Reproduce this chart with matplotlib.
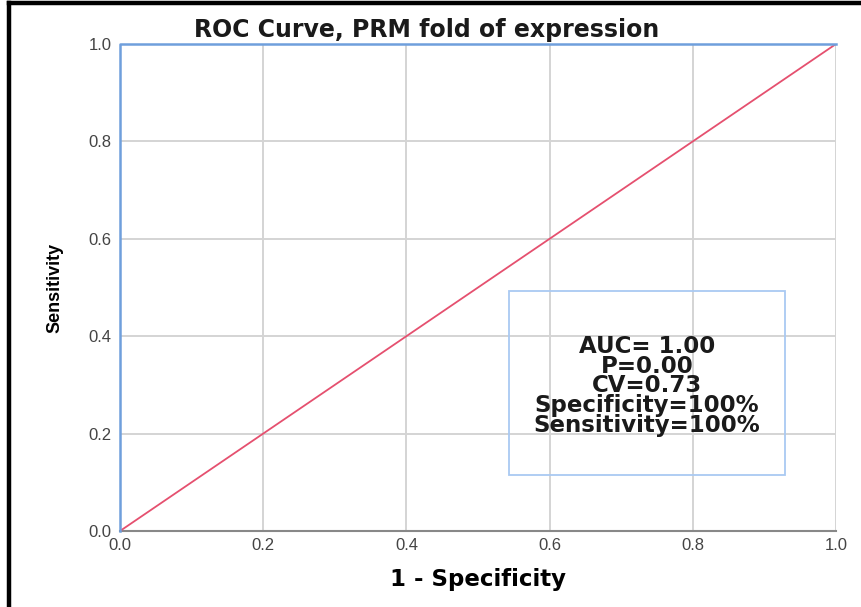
import matplotlib.pyplot as plt
from matplotlib.lines import Line2D
from matplotlib.patches import Rectangle

# ROC curve points
fpr = [0.0, 0.0, 1.0]
tpr = [0.0, 1.0, 1.0]
ref_x = [0.0, 1.0]
ref_y = [0.0, 1.0]
ticks = [0.0, 0.2, 0.4, 0.6, 0.8, 1.0]
tick_labels = ['0.0', '0.2', '0.4', '0.6', '0.8', '1.0']
stats = ['AUC= 1.00', 'P=0.00', 'CV=0.73', 'Specificity=100%', 'Sensitivity=100%']

plt.rcParams['font.family'] = ['Liberation Sans', 'DejaVu Sans']
wide = ['DejaVu Sans']

fig = plt.figure(figsize=(8.62, 6.07), dpi=100)
ax = fig.add_axes([0.1392, 0.1252, 0.8306, 0.8023])

for t in ticks:
    ax.axvline(t, color='#d4d4d4', lw=1.4, zorder=0)
    ax.axhline(t, color='#d4d4d4', lw=1.4, zorder=0)

ax.plot(ref_x, ref_y, color='#e5506f', lw=1.3, zorder=3)
ax.plot(fpr, tpr, color='#6f9fdc', lw=1.8, zorder=4, clip_on=False)

ax.add_patch(Rectangle((0.543, 0.115), 0.386, 0.378, fill=False,
                       edgecolor='#a9c9f2', lw=1.3, zorder=5))
ax.text(0.736, 0.298, '\n'.join(stats), ha='center', va='center', family=wide,
        fontsize=16.5, fontweight='bold', color='#1a1a1a', linespacing=0.82, zorder=6)

ax.set_xlim(0, 1)
ax.set_ylim(0, 1)
ax.set_xticks(ticks)
ax.set_yticks(ticks)
ax.set_xticklabels(tick_labels)
ax.set_yticklabels(tick_labels)
ax.tick_params(length=0, labelsize=12, colors='#444444')
ax.tick_params(axis='x', pad=5)
ax.tick_params(axis='y', pad=6)
for s in ['top', 'right', 'left']:
    ax.spines[s].set_visible(False)
ax.spines['bottom'].set_color('#888888')
ax.spines['bottom'].set_linewidth(1.5)

ax.set_xlabel('1 - Specificity', fontsize=16.5, fontweight='bold', labelpad=11, family=wide)
ax.set_ylabel('Sensitivity', fontsize=13, fontweight='bold', labelpad=18,
              family=['Liberation Sans Narrow', 'Liberation Sans', 'DejaVu Sans'])
fig.text(0.495, 0.951, 'ROC Curve, PRM fold of expression', ha='center', va='center',
         fontsize=17, fontweight='bold', color='#1a1a1a', family=wide)

# black frame on the left and top edges
fig.add_artist(Line2D([9 / 862, 9 / 862], [0, 1 - 3 / 607], color='black', lw=3.2))
fig.add_artist(Line2D([9 / 862, 1], [1 - 3 / 607, 1 - 3 / 607], color='black', lw=3.2))

fig.savefig('out.png', dpi=100)
